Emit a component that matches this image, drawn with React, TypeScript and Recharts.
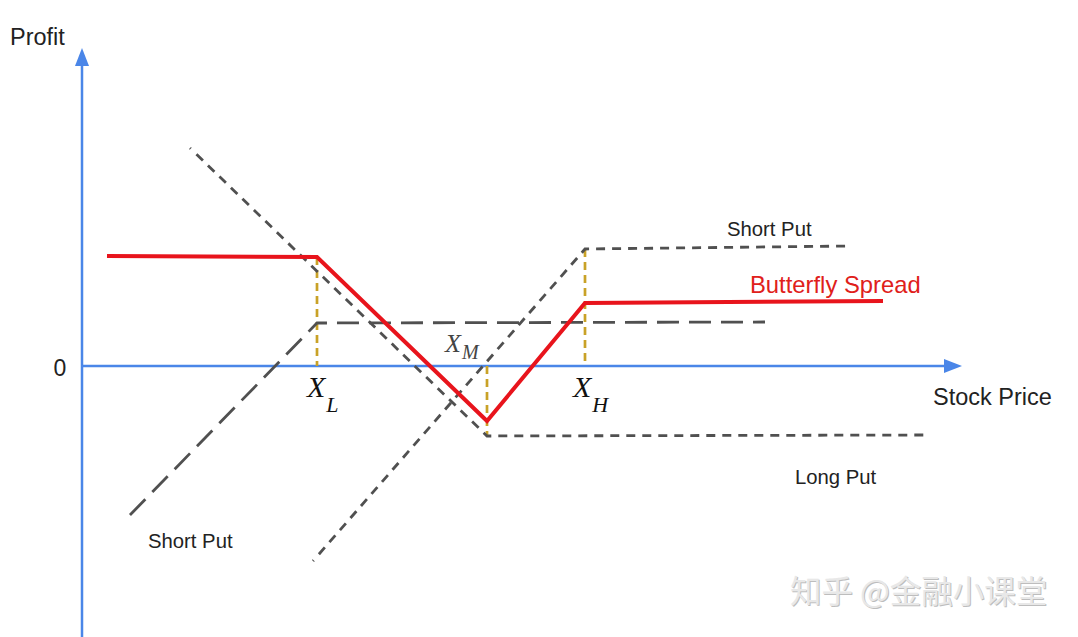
import React from 'react';
import {
  ComposedChart,
  Line,
  XAxis,
  YAxis,
  ReferenceDot
} from 'recharts';

// Strike prices (X_L, X_M, X_H)
const strikeNames = ['L', 'M', 'H'];
const strikePrices = [23.5, 40.5, 50.3];

// Butterfly spread payoff (red)
const butterflyPrice = [2.5, 23.5, 40.5, 50.3, 80.1];
const butterflyProfit = [11.0, 10.9, -5.5, 6.3, 6.5];

// Long put at X_M (short dashes)
const longPutPrice = [10.8, 40.5, 84.3];
const longPutProfit = [21.8, -7.0, -6.9];

// Short put at X_H (short dashes)
const shortPutHPrice = [23.1, 50.3, 76.8];
const shortPutHProfit = [-19.5, 11.7, 12.0];

// Short put at X_L (long dashes)
const shortPutLPrice = [4.8, 23.5, 68.3];
const shortPutLProfit = [-14.9, 4.3, 4.4];

// Guide lines from each strike to its payoff kink
const guideFrom = [10.9, 0, 11.7];
const guideTo = [0, -7.0, 0];

const toRows = (xs: number[], ys: number[]) => xs.map((x, i) => ({ x, y: ys[i] }));

const GRAY = '#505050';
const GOLD = '#c9a227';
const BLUE = '#4a86e8';
const SANS = 'Arial, "Liberation Sans", sans-serif';
const SERIF = '"Liberation Serif", "Times New Roman", serif';
// short dashes start with a small dot, like the drawing tool did
const SHORT_DASH = '1 8 ' + Array(80).fill('9 7').join(' ');

const textAt = (x: number, y: number, render: (cx: number, cy: number) => React.ReactElement, key: string) => (
  <ReferenceDot
    key={key}
    x={x}
    y={y}
    r={0}
    ifOverflow="visible"
    shape={(p: any) => render(p.cx, p.cy)}
  />
);

const plainLabel = (x: number, y: number, text: string, size: number, color = '#222', anchor: 'start' | 'middle' = 'start') =>
  textAt(x, y, (cx, cy) => (
    <text x={cx} y={cy} fontSize={size} fill={color} fontFamily={SANS} textAnchor={anchor}>{text}</text>
  ), text + x);

const strikeLabelPos = [
  { x: 22.5, y: -3.1, size: 30, sub: 22, dy: 15, color: '#111' },
  { x: 36.3, y: 1.4, size: 26, sub: 20, dy: 7, color: '#444' },
  { x: 49.1, y: -3.1, size: 30, sub: 22, dy: 15, color: '#111' }
];

const series = (xs: number[], ys: number[], stroke: string, width: number, dash?: string, key?: string) => (
  <Line
    key={key}
    data={toRows(xs, ys)}
    dataKey="y"
    type="linear"
    stroke={stroke}
    strokeWidth={width}
    strokeDasharray={dash}
    dot={false}
    activeDot={false}
    legendType="none"
    isAnimationActive={false}
  />
);

const App: React.FC = () => {
  return (
    <div style={{ position: 'absolute', left: 0, top: 0, width: 1078, height: 637, background: '#fff' }}>
      <ComposedChart width={1078} height={637} margin={{ top: 0, right: 0, bottom: 0, left: 0 }}>
        <XAxis type="number" dataKey="x" domain={[-8.2, 99.6]} hide allowDataOverflow />
        <YAxis type="number" dataKey="y" domain={[-27.1, 36.6]} hide allowDataOverflow />

        {/* axes */}
        {series([0, 0], [-27.1, 30.5], BLUE, 2.5)}
        {series([0, 86.8], [0, 0], BLUE, 2.5)}

        {/* guide lines at strikes */}
        {strikePrices.map((s, i) => series([s, s], [guideFrom[i], guideTo[i]], GOLD, 2.7, '8 5', 'g' + i))}

        {series(longPutPrice, longPutProfit, GRAY, 2.8, SHORT_DASH)}
        {series(shortPutHPrice, shortPutHProfit, GRAY, 2.8, SHORT_DASH)}
        {series(shortPutLPrice, shortPutLProfit, GRAY, 2.8, '22 10')}
        {series(butterflyPrice, butterflyProfit, '#e8141c', 4)}

        {/* arrow heads */}
        <ReferenceDot x={0} y={31.8} r={0} ifOverflow="visible"
          shape={(p: any) => <polygon points={`${p.cx},${p.cy} ${p.cx - 7},${p.cy + 18} ${p.cx + 7},${p.cy + 18}`} fill={BLUE} />} />
        <ReferenceDot x={88} y={0} r={0} ifOverflow="visible"
          shape={(p: any) => <polygon points={`${p.cx},${p.cy} ${p.cx - 18},${p.cy - 7} ${p.cx - 18},${p.cy + 7}`} fill={BLUE} />} />

        {plainLabel(-7.2, 32.1, 'Profit', 23.5)}
        {plainLabel(-2.2, -1.0, '0', 23, '#222', 'middle')}
        {plainLabel(85.1, -3.9, 'Stock Price', 23.5)}
        {plainLabel(64.5, 13.0, 'Short Put', 20.3)}
        {plainLabel(66.8, 7.3, 'Butterfly Spread', 23.8, '#e0201a')}
        {plainLabel(71.3, -11.8, 'Long Put', 20.3)}
        {plainLabel(6.6, -18.2, 'Short Put', 20.3)}

        {strikeNames.map((n, i) => {
          const lp = strikeLabelPos[i];
          return textAt(lp.x, lp.y, (cx, cy) => (
            <text x={cx} y={cy} fontSize={lp.size} fill={lp.color} fontFamily={SERIF} fontStyle="italic">
              X<tspan fontSize={lp.sub} dx={1} dy={lp.dy}>{n}</tspan>
            </text>
          ), 'x' + n);
        })}

        {textAt(70.8, -23.7, (cx, cy) => (
          <g>
            <text x={cx + 1} y={cy + 1} fontSize={31.5} fill="#bdbdbd" fontFamily='"Noto Sans CJK SC", sans-serif'>知乎 @金融小课堂</text>
            <text x={cx} y={cy} fontSize={31.5} fill="#e8e8e8" fontFamily='"Noto Sans CJK SC", sans-serif'>知乎 @金融小课堂</text>
          </g>
        ), 'wm')}
      </ComposedChart>
    </div>
  );
};

export default App;
